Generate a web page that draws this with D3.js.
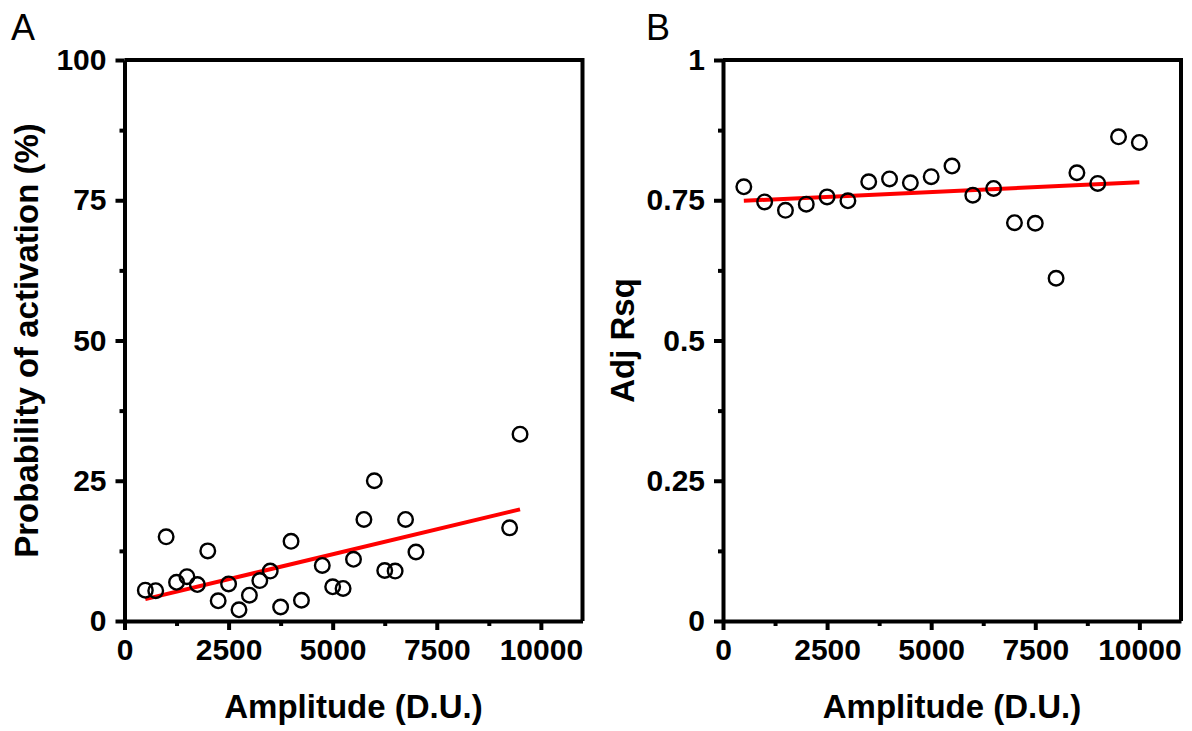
<!DOCTYPE html>
<html>
<head>
<meta charset="utf-8">
<script src="https://cdn.jsdelivr.net/npm/d3@7"></script>
<style>
  body { margin: 0; background: #fff; }
  svg text { font-family: "Liberation Sans", Arial, sans-serif; }
</style>
</head>
<body>
<svg id="chart" width="1192" height="731"></svg>
<script>
// Panel A data: amplitude vs probability of activation (%)
var ampA  = [500, 750, 1000, 1250, 1500, 1750, 2000, 2250, 2500, 2750, 3000, 3250, 3500, 3750, 4000, 4250,
             4750, 5000, 5250, 5500, 5750, 6000, 6250, 6500, 6750, 7000, 9250, 9500];
var probA = [5.5, 5.4, 15.0, 6.9, 7.9, 6.5, 12.5, 3.6, 6.6, 2.0, 4.6, 7.2, 8.9, 2.5, 14.2, 3.7,
             9.9, 6.1, 5.8, 11.0, 18.1, 25.0, 9.0, 8.9, 18.1, 12.3, 16.6, 33.3];
var fitAx = [500, 9500], fitAy = [3.9, 19.9];

// Panel B data: amplitude vs adjusted R squared
var ampB = [500, 1000, 1500, 2000, 2500, 3000, 3500, 4000, 4500, 5000,
            5500, 6000, 6500, 7000, 7500, 8000, 8500, 9000, 9500, 10000];
var rsqB = [0.774, 0.747, 0.732, 0.743, 0.756, 0.749, 0.783, 0.788, 0.781, 0.792,
            0.811, 0.759, 0.771, 0.710, 0.709, 0.611, 0.799, 0.780, 0.863, 0.853];
var fitBx = [500, 10000], fitBy = [0.749, 0.782];

var xTicks = [0, 2500, 5000, 7500, 10000];
var xMinor = [1250, 3750, 6250, 8750];
var yTicksA = [0, 25, 50, 75, 100], yMinorA = [12.5, 37.5, 62.5, 87.5];
var yTicksB = [0, 0.25, 0.5, 0.75, 1], yMinorB = [0.125, 0.375, 0.625, 0.875];
var yLabelsB = ['0', '0.25', '0.5', '0.75', '1'];

/*******************************************************************************************/

var svg = d3.select('#chart');

function panel(opt){
  var top = 60, bottom = 621;
  var x = d3.scaleLinear().domain([0, 11000]).range([opt.left, opt.left + 458]);
  var y = d3.scaleLinear().domain(opt.yDomain).range([bottom, top]);
  var g = svg.append('g');

  // frame top + right
  g.append('path').attr('d', 'M' + x(0) + ',' + top + 'H' + x(11000) + 'V' + bottom)
    .style('fill', 'none').style('stroke', '#000').style('stroke-width', 4);

  var xa = g.append('g').attr('transform', 'translate(0,' + bottom + ')')
    .call(d3.axisBottom(x).tickValues(xTicks).tickSize(9).tickSizeOuter(0).tickPadding(9).tickFormat(d3.format('d')));
  g.append('g').attr('transform', 'translate(0,' + bottom + ')')
    .call(d3.axisBottom(x).tickValues(xMinor).tickSize(5).tickSizeOuter(0).tickFormat(''))
    .select('.domain').remove();

  var ya = g.append('g').attr('transform', 'translate(' + x(0) + ',0)')
    .call(d3.axisLeft(y).tickValues(opt.yTicks).tickSize(9).tickSizeOuter(0).tickPadding(9).tickFormat(opt.yFormat));
  g.append('g').attr('transform', 'translate(' + x(0) + ',0)')
    .call(d3.axisLeft(y).tickValues(opt.yMinor).tickSize(5).tickSizeOuter(0).tickFormat(''))
    .select('.domain').remove();

  g.selectAll('.domain').style('stroke-width', 4).style('stroke', '#000');
  g.selectAll('.tick line').style('stroke-width', 4).style('stroke', '#000');
  g.selectAll('.tick text').style('font-size', '30px').style('font-weight', 'bold').style('fill', '#000')
    .style('font-family', '"Liberation Sans", Arial, sans-serif');

  // fit line
  var line = d3.line().x(d => x(d[0])).y(d => y(d[1]));
  g.append('path').datum(opt.fitX.map((d, i) => [d, opt.fitY[i]])).attr('d', line)
    .style('fill', 'none').style('stroke', '#ff0000').style('stroke-width', 4);

  // points
  g.selectAll('circle.pt').data(opt.xs).enter().append('circle').attr('class', 'pt')
    .attr('cx', d => x(d)).attr('cy', (d, i) => y(opt.ys[i])).attr('r', 7.3)
    .style('fill', 'none').style('stroke', '#000').style('stroke-width', 2.4);

  // titles
  g.append('text').attr('x', (x(0) + x(11000)) / 2).attr('y', 718)
    .style('text-anchor', 'middle').style('font-size', '33px').style('font-weight', 'bold').text('Amplitude (D.U.)');
  g.append('text').attr('transform', 'translate(' + opt.yTitleX + ',' + ((top + bottom) / 2) + ') rotate(-90)')
    .style('text-anchor', 'middle').style('font-size', '33px').style('font-weight', 'bold').text(opt.yTitle);
  g.append('text').attr('x', opt.letterX).attr('y', 40).style('font-size', '36px').text(opt.letter);
}

panel({ left: 124.5, yDomain: [0, 100], yTicks: yTicksA, yMinor: yMinorA, yFormat: d3.format('d'),
        fitX: fitAx, fitY: fitAy, xs: ampA, ys: probA, yTitle: 'Probability of activation (%)',
        yTitleX: 38, letter: 'A', letterX: 11 });

panel({ left: 723, yDomain: [0, 1], yTicks: yTicksB, yMinor: yMinorB, yFormat: (d, i) => yLabelsB[i],
        fitX: fitBx, fitY: fitBy, xs: ampB, ys: rsqB, yTitle: 'Adj Rsq',
        yTitleX: 634, letter: 'B', letterX: 646 });
</script>
</body>
</html>
